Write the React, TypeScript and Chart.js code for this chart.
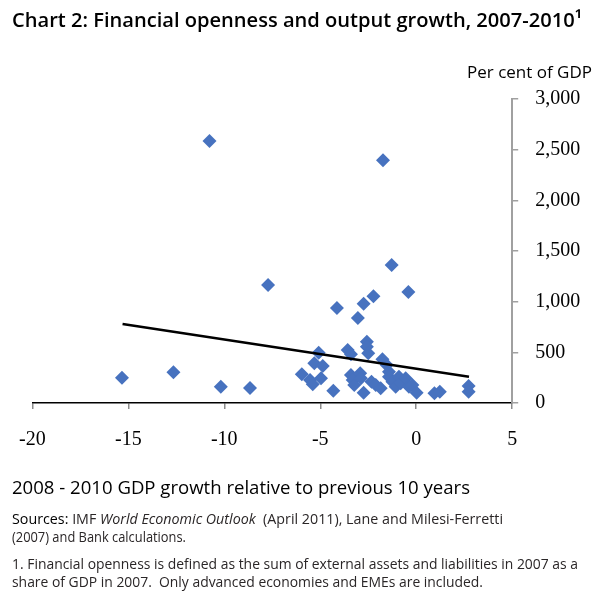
import React, { useEffect, useLayoutEffect, useRef } from "react";
import { Chart, registerables } from "chart.js";

Chart.register(...registerables);

// Growth 2008-2010 relative to previous 10 years (x) and financial openness, per cent of GDP (y)
const growth = [
  -15.33, -12.65, -10.77, -10.18, -8.66, -7.72, -5.96, -5.53, -5.39, -5.31,
  -5.08, -4.96, -4.87, -4.32, -4.13, -3.57, -3.4, -3.4, -3.31, -3.23,
  -3.04, -2.92, -2.88, -2.74, -2.74, -2.57, -2.57, -2.5, -2.33, -2.23,
  -2.11, -1.85, -1.76, -1.73, -1.54, -1.42, -1.42, -1.28, -1.24, -1.07,
  -0.9, -0.81, -0.55, -0.41, -0.38, -0.2, 0.02, 0.95, 1.23, 2.73, 2.73,
];
const openness = [
  250, 303, 2586, 161, 148, 1165, 283, 227, 185, 392,
  497, 244, 365, 121, 938, 523, 481, 276, 227, 178,
  839, 293, 244, 102, 980, 605, 556, 490, 210, 1053,
  178, 145, 431, 2396, 375, 309, 260, 1362, 210, 161,
  260, 194, 244, 1096, 161, 178, 102, 96, 112, 168, 112,
];
// Linear trend line end points
const trendGrowth = [-15.3, 2.75];
const trendOpenness = [780, 258];

const xMin = -20;
const xMax = 5;
const xStep = 5;
const yMin = 0;
const yMax = 3000;
const yStep = 500;

const TITLE = "Chart 2: Financial openness and output growth, 2007-2010\u00B9";
const Y_UNIT = "Per cent of GDP";
const X_TITLE = "2008 - 2010 GDP growth relative to previous 10 years";
const FOOT1 = "1. Financial openness is defined as the sum of external assets and liabilities in 2007 as a";
const FOOT2 = "share of GDP in 2007.  Only advanced economies and EMEs are included.";

const SANS = "'Open Sans', 'Noto Sans', sans-serif";
const SERIF = "'Liberation Serif', 'DejaVu Serif', serif";

function FitText(props: {
  left: number;
  top: number;
  width: number;
  size: number;
  weight?: number;
  color?: string;
  children: React.ReactNode;
}) {
  const ref = useRef<HTMLSpanElement>(null);
  useLayoutEffect(() => {
    const fit = () => {
      const el = ref.current;
      if (!el) return;
      el.style.transform = "none";
      const w = el.getBoundingClientRect().width;
      if (w > 0) el.style.transform = `scaleX(${props.width / w})`;
    };
    fit();
    if ((document as any).fonts && (document as any).fonts.ready) {
      (document as any).fonts.ready.then(fit);
    }
  }, [props.width]);
  return (
    <span
      ref={ref}
      style={{
        position: "absolute",
        left: props.left,
        top: props.top,
        whiteSpace: "pre",
        lineHeight: 1,
        fontFamily: SANS,
        fontSize: props.size,
        fontWeight: props.weight ?? 400,
        color: props.color ?? "#000",
        transformOrigin: "left top",
        display: "inline-block",
      }}
    >
      {props.children}
    </span>
  );
}

export default function App() {
  const canvasRef = useRef<HTMLCanvasElement>(null);

  useEffect(() => {
    const canvas = canvasRef.current;
    if (!canvas) return;
    const chart = new Chart(canvas, {
      type: "scatter",
      data: {
        datasets: [
          {
            data: trendGrowth.map((x, i) => ({ x, y: trendOpenness[i] })),
            showLine: true,
            borderColor: "#000000",
            borderWidth: 2.5,
            pointRadius: 0,
            order: 0,
          },
          {
            data: growth.map((x, i) => ({ x, y: openness[i] })),
            pointStyle: "rectRot",
            pointRadius: 7,
            backgroundColor: "#4772BF",
            borderColor: "#4772BF",
            borderWidth: 0,
            order: 1,
          },
        ],
      },
      options: {
        responsive: false,
        animation: false,
        devicePixelRatio: window.devicePixelRatio || 1,
        layout: { padding: { left: 30.5, right: 17.8, top: 99, bottom: 143 } },
        plugins: {
          legend: { display: false },
          tooltip: { enabled: false },
          title: { display: false },
        },
        scales: {
          x: {
            type: "linear",
            position: "bottom",
            min: xMin,
            max: xMax,
            ticks: {
              stepSize: xStep,
              color: "#000",
              font: { family: SERIF, size: 20 },
              padding: 19,
              maxRotation: 0,
            },
            grid: {
              drawOnChartArea: false,
              drawTicks: true,
              tickLength: 6,
              color: "#8C8C8C",
              lineWidth: 1.5,
            },
            border: { display: true, color: "#000", width: 1.5 },
            afterFit: (s: any) => {
              s.height = 50;
            },
          },
          y: {
            type: "linear",
            position: "right",
            min: yMin,
            max: yMax,
            ticks: {
              stepSize: yStep,
              color: "#000",
              font: { family: SERIF, size: 20 },
              padding: 17,
            },
            grid: {
              drawOnChartArea: false,
              drawTicks: true,
              tickLength: 6,
              color: "#A0A0A0",
              lineWidth: 1.5,
            },
            border: { display: true, color: "#A0A0A0", width: 2 },
            afterFit: (s: any) => {
              s.width = 70;
            },
          },
        },
      },
    });
    return () => chart.destroy();
  }, []);

  return (
    <div
      style={{
        position: "absolute",
        left: 0,
        top: 0,
        width: 600,
        height: 596,
        overflow: "hidden",
        background: "#fff",
      }}
    >
      <canvas
        ref={canvasRef}
        width={600}
        height={596}
        style={{ position: "absolute", left: 0, top: 0, width: 600, height: 596 }}
      />
      <FitText left={12} top={9} width={570} size={20.5} weight={600}>
        {TITLE}
      </FitText>
      <FitText left={467} top={63.5} width={125} size={16.5}>
        {Y_UNIT}
      </FitText>
      <FitText left={12} top={477.5} width={458} size={18.5}>
        {X_TITLE}
      </FitText>
      <FitText left={12} top={512} width={491} size={14.5} color="#2A2627">
        <span style={{ color: "#000" }}>Sources:</span> IMF{" "}
        <i>World Economic Outlook</i>
        {"  (April 2011), Lane and Milesi-Ferretti"}
      </FitText>
      <FitText left={12} top={529.5} width={174} size={14.5} color="#2A2627">
        (2007) and Bank calculations.
      </FitText>
      <FitText left={12} top={556} width={566} size={15} color="#2A2627">
        {FOOT1}
      </FitText>
      <FitText left={12} top={574} width={471} size={15} color="#2A2627">
        {FOOT2}
      </FitText>
    </div>
  );
}
